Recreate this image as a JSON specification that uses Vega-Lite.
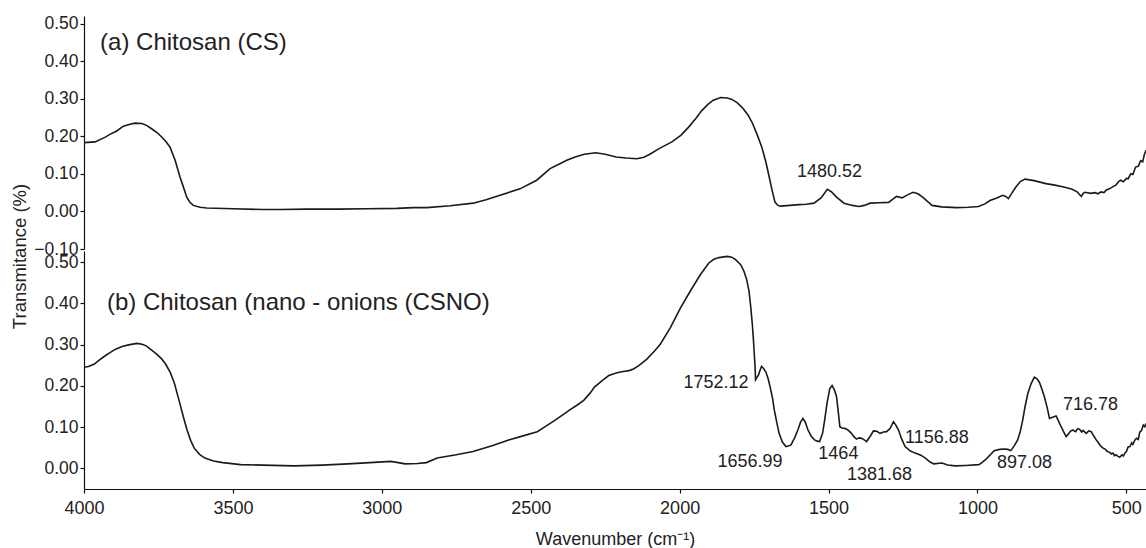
{
  "$schema": "https://vega.github.io/schema/vega-lite/v6.json",
  "background": "white",
  "padding": {"left": 10, "top": 14, "right": 0, "bottom": 0},
  "spacing": 2,
  "bounds": "flush",
  "config": {
    "view": {"stroke": null},
    "font": "Liberation Sans",
    "axis": {"grid": false, "domainColor": "#111", "tickColor": "#111", "labelColor": "#222", "titleColor": "#222", "labelFont": "Liberation Sans", "titleFont": "Liberation Sans", "labelFontSize": 17.5, "labelOverlap": false, "titleFontWeight": "normal", "tickSize": 4, "domainWidth": 1.2, "tickWidth": 1.2}
  },
  "datasets": {
    "cs": [
      {"wn":4000,"t":0.183},{"wn":3963,"t":0.185},{"wn":3930,"t":0.197},{"wn":3913,"t":0.205},{"wn":3890,"t":0.214},{"wn":3868,"t":0.227},{"wn":3845,"t":0.232},{"wn":3829,"t":0.235},{"wn":3806,"t":0.234},{"wn":3790,"t":0.229},{"wn":3773,"t":0.22},{"wn":3755,"t":0.21},{"wn":3739,"t":0.198},{"wn":3725,"t":0.186},{"wn":3711,"t":0.171},{"wn":3694,"t":0.136},{"wn":3678,"t":0.092},{"wn":3665,"t":0.062},{"wn":3655,"t":0.038},{"wn":3645,"t":0.025},{"wn":3633,"t":0.016},{"wn":3610,"t":0.011},{"wn":3588,"t":0.009},{"wn":3500,"t":0.007},{"wn":3400,"t":0.005},{"wn":3342,"t":0.005},{"wn":3250,"t":0.006},{"wn":3150,"t":0.006},{"wn":3050,"t":0.007},{"wn":2950,"t":0.008},{"wn":2894,"t":0.010},{"wn":2849,"t":0.010},{"wn":2770,"t":0.015},{"wn":2693,"t":0.022},{"wn":2650,"t":0.031},{"wn":2603,"t":0.043},{"wn":2536,"t":0.060},{"wn":2480,"t":0.083},{"wn":2435,"t":0.114},{"wn":2402,"t":0.127},{"wn":2379,"t":0.136},{"wn":2351,"t":0.145},{"wn":2320,"t":0.152},{"wn":2282,"t":0.156},{"wn":2250,"t":0.152},{"wn":2213,"t":0.145},{"wn":2180,"t":0.142},{"wn":2144,"t":0.140},{"wn":2120,"t":0.144},{"wn":2100,"t":0.152},{"wn":2069,"t":0.167},{"wn":2026,"t":0.185},{"wn":1995,"t":0.203},{"wn":1969,"t":0.225},{"wn":1945,"t":0.248},{"wn":1925,"t":0.269},{"wn":1905,"t":0.285},{"wn":1887,"t":0.296},{"wn":1862,"t":0.303},{"wn":1840,"t":0.302},{"wn":1824,"t":0.298},{"wn":1805,"t":0.288},{"wn":1787,"t":0.274},{"wn":1770,"t":0.256},{"wn":1755,"t":0.234},{"wn":1740,"t":0.205},{"wn":1724,"t":0.171},{"wn":1710,"t":0.13},{"wn":1699,"t":0.091},{"wn":1690,"t":0.058},{"wn":1680,"t":0.025},{"wn":1670,"t":0.016},{"wn":1661,"t":0.014},{"wn":1630,"t":0.016},{"wn":1599,"t":0.018},{"wn":1575,"t":0.019},{"wn":1549,"t":0.022},{"wn":1525,"t":0.036},{"wn":1504,"t":0.059},{"wn":1490,"t":0.052},{"wn":1473,"t":0.038},{"wn":1448,"t":0.022},{"wn":1420,"t":0.016},{"wn":1398,"t":0.013},{"wn":1380,"t":0.016},{"wn":1360,"t":0.022},{"wn":1330,"t":0.023},{"wn":1298,"t":0.024},{"wn":1285,"t":0.032},{"wn":1272,"t":0.040},{"wn":1253,"t":0.036},{"wn":1235,"t":0.044},{"wn":1216,"t":0.051},{"wn":1200,"t":0.047},{"wn":1184,"t":0.038},{"wn":1165,"t":0.025},{"wn":1153,"t":0.016},{"wn":1120,"t":0.012},{"wn":1071,"t":0.010},{"wn":1030,"t":0.011},{"wn":996,"t":0.013},{"wn":975,"t":0.020},{"wn":958,"t":0.029},{"wn":935,"t":0.036},{"wn":915,"t":0.043},{"wn":905,"t":0.040},{"wn":896,"t":0.034},{"wn":885,"t":0.048},{"wn":871,"t":0.065},{"wn":855,"t":0.080},{"wn":840,"t":0.086},{"wn":810,"t":0.082},{"wn":770,"t":0.074},{"wn":740,"t":0.070},{"wn":710,"t":0.065},{"wn":682,"t":0.059},{"wn":665,"t":0.052},{"wn":655,"t":0.043},{"wn":651,"t":0.040},{"wn":645,"t":0.048},{"wn":639,"t":0.051},{"wn":620,"t":0.048},{"wn":605,"t":0.050},{"wn":595,"t":0.047},{"wn":585,"t":0.052},{"wn":575,"t":0.050},{"wn":567,"t":0.057},{"wn":557,"t":0.060},{"wn":545,"t":0.066},{"wn":535,"t":0.070},{"wn":525,"t":0.080},{"wn":519,"t":0.083},{"wn":510,"t":0.079},{"wn":500,"t":0.088},{"wn":494,"t":0.087},{"wn":485,"t":0.100},{"wn":478,"t":0.098},{"wn":469,"t":0.118},{"wn":460,"t":0.120},{"wn":452,"t":0.135},{"wn":445,"t":0.132},{"wn":440,"t":0.150},{"wn":434,"t":0.163}
    ],
    "csno": [
      {"wn":4000,"t":0.245},{"wn":3985,"t":0.247},{"wn":3965,"t":0.253},{"wn":3950,"t":0.262},{"wn":3929,"t":0.273},{"wn":3910,"t":0.282},{"wn":3894,"t":0.289},{"wn":3870,"t":0.296},{"wn":3846,"t":0.300},{"wn":3822,"t":0.303},{"wn":3805,"t":0.301},{"wn":3791,"t":0.297},{"wn":3775,"t":0.288},{"wn":3756,"t":0.277},{"wn":3740,"t":0.266},{"wn":3726,"t":0.253},{"wn":3710,"t":0.232},{"wn":3696,"t":0.205},{"wn":3678,"t":0.157},{"wn":3666,"t":0.124},{"wn":3654,"t":0.093},{"wn":3642,"t":0.068},{"wn":3630,"t":0.049},{"wn":3612,"t":0.034},{"wn":3594,"t":0.025},{"wn":3565,"t":0.018},{"wn":3534,"t":0.014},{"wn":3474,"t":0.009},{"wn":3400,"t":0.008},{"wn":3294,"t":0.006},{"wn":3200,"t":0.008},{"wn":3114,"t":0.011},{"wn":3040,"t":0.014},{"wn":2970,"t":0.017},{"wn":2945,"t":0.014},{"wn":2922,"t":0.011},{"wn":2880,"t":0.012},{"wn":2850,"t":0.014},{"wn":2814,"t":0.025},{"wn":2750,"t":0.033},{"wn":2694,"t":0.041},{"wn":2630,"t":0.055},{"wn":2574,"t":0.069},{"wn":2520,"t":0.080},{"wn":2478,"t":0.089},{"wn":2450,"t":0.102},{"wn":2418,"t":0.117},{"wn":2390,"t":0.131},{"wn":2370,"t":0.141},{"wn":2345,"t":0.153},{"wn":2322,"t":0.165},{"wn":2300,"t":0.183},{"wn":2286,"t":0.197},{"wn":2260,"t":0.213},{"wn":2238,"t":0.225},{"wn":2210,"t":0.232},{"wn":2190,"t":0.235},{"wn":2170,"t":0.237},{"wn":2155,"t":0.241},{"wn":2137,"t":0.249},{"wn":2110,"t":0.265},{"wn":2085,"t":0.284},{"wn":2065,"t":0.301},{"wn":2031,"t":0.341},{"wn":1997,"t":0.389},{"wn":1964,"t":0.430},{"wn":1930,"t":0.470},{"wn":1902,"t":0.498},{"wn":1885,"t":0.507},{"wn":1868,"t":0.511},{"wn":1840,"t":0.514},{"wn":1825,"t":0.512},{"wn":1812,"t":0.506},{"wn":1795,"t":0.494},{"wn":1784,"t":0.478},{"wn":1775,"t":0.458},{"wn":1767,"t":0.430},{"wn":1761,"t":0.39},{"wn":1756,"t":0.350},{"wn":1752,"t":0.31},{"wn":1750,"t":0.285},{"wn":1747,"t":0.25},{"wn":1745,"t":0.215},{"wn":1741,"t":0.22},{"wn":1736,"t":0.225},{"wn":1730,"t":0.238},{"wn":1725,"t":0.247},{"wn":1718,"t":0.242},{"wn":1710,"t":0.233},{"wn":1703,"t":0.218},{"wn":1696,"t":0.197},{"wn":1688,"t":0.170},{"wn":1682,"t":0.141},{"wn":1674,"t":0.112},{"wn":1666,"t":0.085},{"wn":1655,"t":0.064},{"wn":1643,"t":0.053},{"wn":1635,"t":0.054},{"wn":1626,"t":0.057},{"wn":1614,"t":0.074},{"wn":1603,"t":0.093},{"wn":1594,"t":0.112},{"wn":1586,"t":0.121},{"wn":1578,"t":0.112},{"wn":1569,"t":0.093},{"wn":1558,"t":0.078},{"wn":1547,"t":0.069},{"wn":1538,"t":0.066},{"wn":1530,"t":0.065},{"wn":1520,"t":0.085},{"wn":1513,"t":0.117},{"wn":1505,"t":0.158},{"wn":1496,"t":0.193},{"wn":1488,"t":0.201},{"wn":1480,"t":0.19},{"wn":1473,"t":0.173},{"wn":1467,"t":0.135},{"wn":1462,"t":0.101},{"wn":1455,"t":0.098},{"wn":1445,"t":0.097},{"wn":1435,"t":0.093},{"wn":1423,"t":0.085},{"wn":1415,"t":0.077},{"wn":1406,"t":0.071},{"wn":1398,"t":0.074},{"wn":1389,"t":0.073},{"wn":1380,"t":0.069},{"wn":1372,"t":0.065},{"wn":1360,"t":0.078},{"wn":1349,"t":0.091},{"wn":1338,"t":0.090},{"wn":1327,"t":0.085},{"wn":1315,"t":0.088},{"wn":1305,"t":0.089},{"wn":1293,"t":0.097},{"wn":1282,"t":0.113},{"wn":1274,"t":0.105},{"wn":1265,"t":0.093},{"wn":1255,"t":0.072},{"wn":1243,"t":0.053},{"wn":1225,"t":0.042},{"wn":1209,"t":0.037},{"wn":1190,"t":0.032},{"wn":1175,"t":0.025},{"wn":1160,"t":0.016},{"wn":1147,"t":0.011},{"wn":1119,"t":0.013},{"wn":1100,"t":0.008},{"wn":1074,"t":0.006},{"wn":1040,"t":0.007},{"wn":995,"t":0.009},{"wn":985,"t":0.014},{"wn":973,"t":0.021},{"wn":958,"t":0.032},{"wn":944,"t":0.043},{"wn":925,"t":0.046},{"wn":910,"t":0.047},{"wn":898,"t":0.046},{"wn":888,"t":0.043},{"wn":876,"t":0.055},{"wn":865,"t":0.069},{"wn":856,"t":0.09},{"wn":848,"t":0.117},{"wn":840,"t":0.15},{"wn":831,"t":0.181},{"wn":820,"t":0.205},{"wn":809,"t":0.221},{"wn":800,"t":0.217},{"wn":792,"t":0.209},{"wn":784,"t":0.193},{"wn":775,"t":0.173},{"wn":766,"t":0.148},{"wn":758,"t":0.121},{"wn":748,"t":0.124},{"wn":736,"t":0.127},{"wn":728,"t":0.115},{"wn":719,"t":0.101},{"wn":710,"t":0.088},{"wn":702,"t":0.077},{"wn":695,"t":0.083},{"wn":688,"t":0.09},{"wn":680,"t":0.093},{"wn":670,"t":0.089},{"wn":664,"t":0.096},{"wn":657,"t":0.095},{"wn":650,"t":0.088},{"wn":645,"t":0.092},{"wn":635,"t":0.085},{"wn":626,"t":0.091},{"wn":618,"t":0.089},{"wn":610,"t":0.079},{"wn":601,"t":0.069},{"wn":594,"t":0.062},{"wn":590,"t":0.058},{"wn":583,"t":0.052},{"wn":578,"t":0.049},{"wn":570,"t":0.046},{"wn":566,"t":0.042},{"wn":560,"t":0.04},{"wn":555,"t":0.038},{"wn":550,"t":0.035},{"wn":545,"t":0.037},{"wn":540,"t":0.031},{"wn":535,"t":0.033},{"wn":528,"t":0.029},{"wn":522,"t":0.027},{"wn":515,"t":0.033},{"wn":510,"t":0.030},{"wn":505,"t":0.037},{"wn":500,"t":0.041},{"wn":494,"t":0.052},{"wn":488,"t":0.053},{"wn":482,"t":0.062},{"wn":478,"t":0.058},{"wn":472,"t":0.068},{"wn":466,"t":0.073},{"wn":460,"t":0.07},{"wn":455,"t":0.088},{"wn":449,"t":0.092},{"wn":443,"t":0.105},{"wn":438,"t":0.101},{"wn":434,"t":0.109}
    ],
    "peaksA": [
      {"wn":1497,"t":0.104,"label":"1480.52"}
    ],
    "peaksB": [
      {"wn":1878,"t":0.206,"label":"1752.12"},
      {"wn":1764,"t":0.016,"label":"1656.99"},
      {"wn":1467,"t":0.035,"label":"1464"},
      {"wn":1329,"t":-0.015,"label":"1381.68"},
      {"wn":1136,"t":0.074,"label":"1156.88"},
      {"wn":842,"t":0.014,"label":"897.08"},
      {"wn":620,"t":0.153,"label":"716.78"}
    ],
    "titleA": [{"wn":3946,"t":0.448,"label":"(a) Chitosan (CS)"}],
    "titleB": [{"wn":3923,"t":0.40,"label":"(b) Chitosan (nano - onions (CSNO)"}]
  },
  "vconcat": [
    {
      "width": 1062,
      "height": 233,
      "encoding": {
        "x": {"field": "wn", "type": "quantitative", "scale": {"domain": [4000, 434], "nice": false, "zero": false}, "axis": null},
        "y": {"field": "t", "type": "quantitative", "scale": {"domain": [-0.10, 0.52], "nice": false, "zero": false},
          "axis": {"values": [-0.1, 0, 0.1, 0.2, 0.3, 0.4, 0.5], "format": ".2f", "labelOverlap": false, "labelPadding": 2, "title": "Transmitance (%)", "titleFontSize": 18.5, "titleX": -59, "titleY": 240, "titleAngle": -90, "titleAlign": "center", "titleBaseline": "alphabetic"}}
      },
      "layer": [
        {
          "data": {"name": "cs"},
          "mark": {"type": "line", "color": "#1a1a1a", "strokeWidth": 1.6, "clip": true},
          "encoding": {"order": {"field": "wn", "type": "quantitative", "sort": "descending"}}
        },
        {
          "data": {"name": "peaksA"},
          "mark": {"type": "text", "fontSize": 18, "color": "#222", "align": "center", "baseline": "middle"},
          "encoding": {"text": {"field": "label"}}
        },
        {
          "data": {"name": "titleA"},
          "mark": {"type": "text", "fontSize": 24, "color": "#222", "align": "left", "baseline": "middle"},
          "encoding": {"text": {"field": "label"}}
        }
      ]
    },
    {
      "width": 1062,
      "height": 238,
      "encoding": {
        "x": {"field": "wn", "type": "quantitative", "scale": {"domain": [4000, 434], "nice": false, "zero": false},
          "axis": {"values": [4000, 3500, 3000, 2500, 2000, 1500, 1000, 500], "format": "d", "labelFontSize": 18, "labelFlush": false, "labelOverlap": false, "labelPadding": 6, "title": "Wavenumber (cm⁻¹)", "titleFontSize": 18, "titlePadding": 13}},
        "y": {"field": "t", "type": "quantitative", "scale": {"domain": [-0.05, 0.527], "nice": false, "zero": false},
          "axis": {"values": [0, 0.1, 0.2, 0.3, 0.4, 0.5], "format": ".2f", "labelOverlap": false, "labelPadding": 2, "title": null}}
      },
      "layer": [
        {
          "data": {"name": "csno"},
          "mark": {"type": "line", "color": "#1a1a1a", "strokeWidth": 1.6, "clip": true},
          "encoding": {"order": {"field": "wn", "type": "quantitative", "sort": "descending"}}
        },
        {
          "data": {"name": "peaksB"},
          "mark": {"type": "text", "fontSize": 18, "color": "#222", "align": "center", "baseline": "middle"},
          "encoding": {"text": {"field": "label"}}
        },
        {
          "data": {"name": "titleB"},
          "mark": {"type": "text", "fontSize": 24, "color": "#222", "align": "left", "baseline": "middle"},
          "encoding": {"text": {"field": "label"}}
        }
      ]
    }
  ]
}
